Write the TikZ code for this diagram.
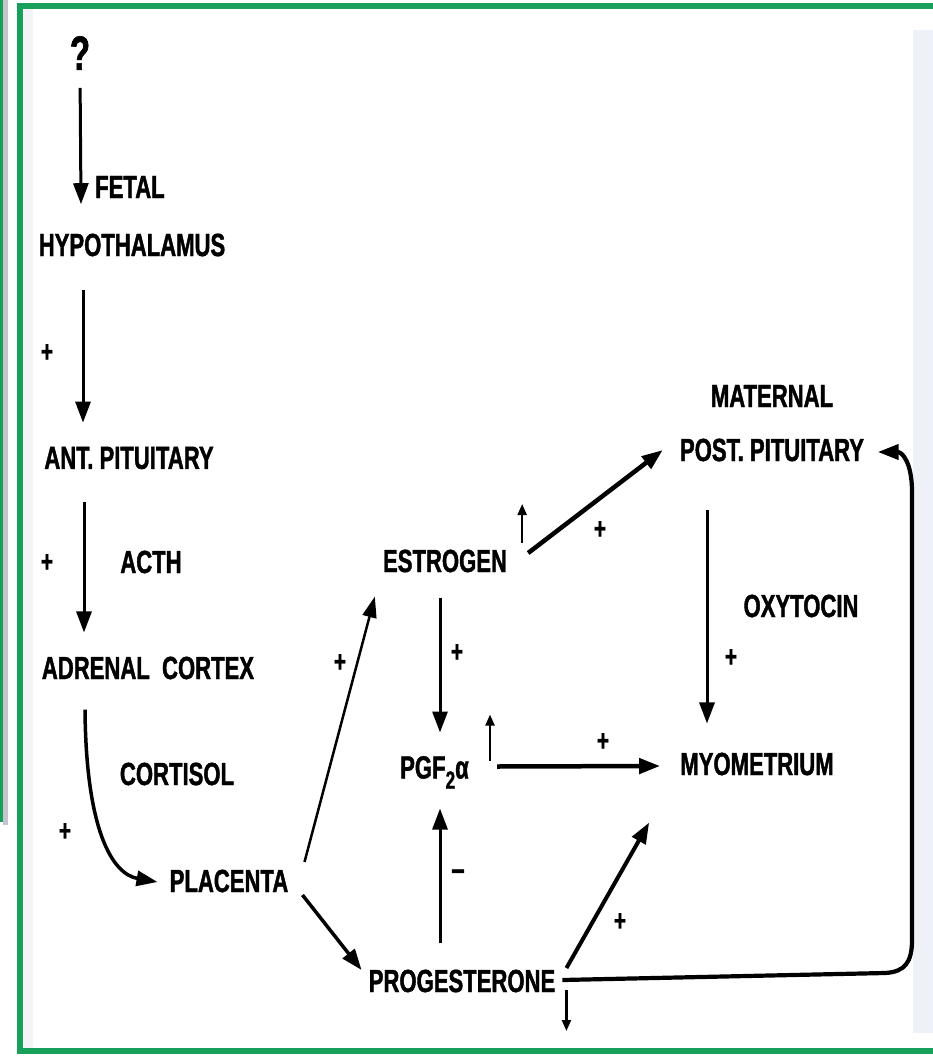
\documentclass[tikz,border=0pt]{standalone}
\usepackage{fontspec}
\setmainfont{Liberation Sans}[FakeStretch=0.69, BoldFeatures={FakeBold=1.3}]
\usetikzlibrary{arrows.meta,calc}
\definecolor{framegreen}{RGB}{22,160,90}
\definecolor{sidegrey}{RGB}{196,198,206}
\definecolor{stripblue}{RGB}{238,241,248}
\definecolor{innergrey}{RGB}{244,244,247}
\begin{document}
\begin{tikzpicture}[x=1pt,y=-1pt,
  lbl/.style={inner sep=0pt, font=\bfseries\fontsize{32}{36}\selectfont},
  sgn/.style={inner sep=0pt, font=\bfseries\fontsize{30}{32}\selectfont},
  arr/.style={line width=3.5pt, -{Triangle[length=21pt,width=15pt]}},
  varr/.style={line width=3pt, -{Triangle[length=21pt,width=15pt]}},
  thinarr/.style={line width=2.5pt, -{Triangle[length=21pt,width=14pt]}},
  heavyarr/.style={line width=4.5pt, -{Triangle[length=21pt,width=15pt]}},
  mini/.style={line width=2.2pt, -{Triangle[length=11pt,width=9pt]}},
]
\useasboundingbox (0,0) rectangle (933,1056);
\fill[white] (0,0) rectangle (933,1056);
% frame and side decorations
\fill[framegreen] (0,0) rectangle (3,822);
\fill[sidegrey] (3,0) rectangle (8,825);
\fill[stripblue] (913,30) rectangle (933,1033);
\fill[innergrey] (24,9) rectangle (33,1048);
\draw[framegreen, line width=6pt] (20,6) rectangle (950,1051);

% nodes
\node[lbl, font=\bfseries\fontsize{48}{50}\selectfont] (q) at (80,53) {?};
\node[lbl, anchor=west] (fetal) at (95,187) {FETAL};
\node[lbl] (hypo) at (132,245) {HYPOTHALAMUS};
\node[lbl] (antpit) at (129,458) {ANT. PITUITARY};
\node[lbl] (acth) at (151,562) {ACTH};
\node[lbl] (adrenal) at (148,668) {ADRENAL\ \ CORTEX};
\node[lbl] (cortisol) at (177,774) {CORTISOL};
\node[lbl] (placenta) at (229,881) {PLACENTA};
\node[lbl] (estrogen) at (445,561) {ESTROGEN};
\node[lbl, anchor=base west] (pgf) at (400,778.5) {PGF\raisebox{-0.32em}{\fontsize{25}{25}\selectfont 2}α};
\node[lbl] (progesterone) at (462,981) {PROGESTERONE};
\node[lbl] (maternal) at (772,396) {MATERNAL};
\node[lbl] (postpit) at (772,450) {POST. PITUITARY};
\node[lbl] (myo) at (757,764) {MYOMETRIUM};
\node[lbl] (oxytocin) at (801,606) {OXYTOCIN};

% signs
\node[sgn] (p1) at (47,353) {+};
\node[sgn] (p2) at (47,563) {+};
\node[sgn] (p3) at (65,832) {+};
\node[sgn] (p4) at (340,663) {+};
\node[sgn] (p5) at (457,653) {+};
\node[sgn] (p6) at (600,530) {+};
\node[sgn] (p7) at (603,742) {+};
\node[sgn] (p8) at (731,658) {+};
\node[sgn] (p9) at (620,922) {+};
\node[sgn, font=\bfseries\fontsize{34}{36}\selectfont] (m1) at (458,875) {–};

% left column
\draw[varr, shorten <=18pt] (q.south) -- ($(q.south |- fetal.south)+(1,6)$);
\draw[varr] ($(hypo.south)+(-49,33)$) -- ($(antpit.north)+(-46,-24)$);
\draw[varr] ($(antpit.south)+(-45,33)$) -- ($(adrenal.north)+(-64,-24)$);
\draw[arr] ($(adrenal.south)+(-63,30)$) .. controls (86,830) and (112,874) .. ($(placenta.west)+(-12,1)$);

% placenta outputs
\draw[thinarr] ($(placenta.east)+(16,-19)$) -- ($(estrogen.south west)+(-8,24)$);
\draw[arr] ($(placenta.east)+(14,14)$) -- ($(progesterone.west)+(-7,-11)$);

% estrogen / pgf / progesterone
\draw[varr] ($(estrogen.south)+(-5,25)$) -- ($(pgf.base west)+(40,-46)$);
\draw[varr] ($(progesterone.north)+(-22,-26)$) -- ($(pgf.base west)+(40,30)$);
\draw[heavyarr] ($(pgf.base west)+(97,-12)$) -- ($(myo.west)+(-20,2)$);
\draw[heavyarr] ($(estrogen.east)+(21,-8)$) -- ($(postpit.west)+(-17,0)$);
\draw[arr, line width=4pt] ($(progesterone.east)+(11,-13)$) -- ($(myo.south west)+(-31,47)$);
\draw[varr] ($(postpit.south)+(-65,48)$) -- ($(myo.north)+(-50,-29)$);

% feedback loop
\draw[arr, line width=4.2pt] ($(progesterone.east)+(7,-1)$) -- (885,973) .. controls (905,972) and (912,962) .. (912,940) -- (912,492) .. controls (912,462) and (902,452) .. ($(postpit.east)+(13.5,2)$);

% small trend arrows
\draw[mini] ($(estrogen.east)+(15,-18)$) -- ($(estrogen.east)+(15,-57)$);
\draw[mini] ($(pgf.base west)+(90,-18)$) -- ($(pgf.base west)+(90,-64)$);
\draw[mini] ($(progesterone.east)+(11,9)$) -- ($(progesterone.east)+(11,50)$);
\end{tikzpicture}
\end{document}
